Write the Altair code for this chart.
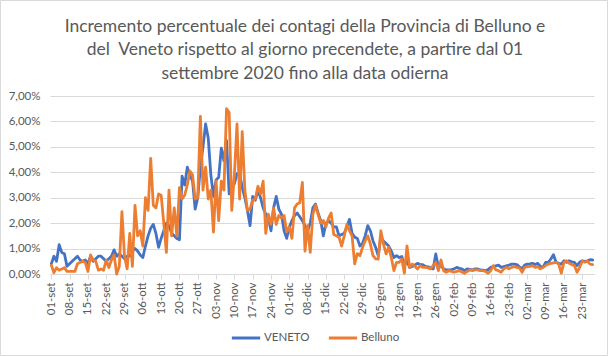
import altair as alt
import pandas as pd

titolo = [
    "Incremento percentuale dei contagi della Provincia di Belluno e",
    "del\u00a0 Veneto rispetto al giorno precendete, a partire dal 01",
    "settembre 2020 fino alla data odierna",
]

etichette_x = ["01-set", "08-set", "15-set", "22-set", "29-set", "06-ott", "13-ott", "20-ott",
               "27-ott", "03-nov", "10-nov", "17-nov", "24-nov", "01-dic", "08-dic", "15-dic",
               "22-dic", "29-dic", "05-gen", "12-gen", "19-gen", "26-gen", "02-feb", "09-feb",
               "16-feb", "23-feb", "02-mar", "09-mar", "16-mar", "23-mar"]

serie = ["VENETO", "Belluno"]

# percentuali giornaliere dal 01-set-2020 al 27-mar-2021
veneto = [
    0.40, 0.70, 0.50, 1.15, 0.85, 0.80, 0.30, 0.40, 0.50, 0.60,
    0.70, 0.55, 0.50, 0.55, 0.40, 0.70, 0.50, 0.60, 0.70, 0.70,
    0.60, 0.50, 0.60, 0.70, 0.95, 0.70, 0.80, 0.70, 0.60, 0.70,
    0.70, 0.90, 1.00, 0.90, 0.75, 0.65, 1.10, 1.50, 1.80, 1.95,
    1.60, 1.05, 1.40, 1.70, 2.00, 1.90, 1.60, 1.50, 1.40, 1.35,
    3.85, 3.50, 4.20, 3.90, 3.65, 2.55, 3.00, 4.20, 5.00, 5.90,
    5.35, 3.90, 3.05, 3.70, 3.80, 4.95, 4.45, 5.25, 3.15, 3.40,
    3.55, 3.95, 3.95, 3.40, 3.00, 2.50, 1.90, 3.05, 2.90, 3.30,
    3.00, 2.60, 2.35, 2.20, 1.70, 2.60, 3.05, 2.55, 2.35, 1.70,
    1.40, 1.85, 2.10, 2.30, 2.40, 2.25, 2.10, 1.90, 1.70, 2.00,
    2.60, 2.75, 2.40, 2.10, 1.50, 2.00, 2.10, 2.00, 1.85, 1.85,
    1.50, 1.55, 1.60, 1.85, 2.15, 1.60, 1.45, 1.40, 1.10, 1.20,
    1.50, 1.90, 1.70, 1.30, 1.05, 0.72, 1.45, 1.30, 1.20, 1.10,
    0.90, 0.65, 0.72, 0.65, 0.69, 0.33, 0.52, 0.26, 0.30, 0.35,
    0.42, 0.37, 0.37, 0.30, 0.28, 0.24, 0.20, 0.79, 0.26, 0.33,
    0.20, 0.16, 0.16, 0.17, 0.20, 0.26, 0.22, 0.20, 0.13, 0.20,
    0.18, 0.16, 0.20, 0.20, 0.16, 0.15, 0.13, 0.17, 0.26, 0.29,
    0.32, 0.35, 0.26, 0.29, 0.32, 0.35, 0.39, 0.39, 0.37, 0.28,
    0.20, 0.35, 0.39, 0.40, 0.42, 0.37, 0.42, 0.30, 0.26, 0.46,
    0.46, 0.59, 0.76, 0.46, 0.42, 0.39, 0.52, 0.46, 0.52, 0.48,
    0.46, 0.33, 0.46, 0.52, 0.50, 0.52, 0.56, 0.55,
]

belluno = [
    0.35, 0.05, 0.25, 0.15, 0.20, 0.25, 0.10, 0.10, 0.10, 0.10,
    0.40, 0.45, 0.50, 0.45, 0.10, 0.75, 0.55, 0.50, 0.15, 0.20,
    0.15, 0.55, 0.25, 0.55, 0.75, 0.00, 0.30, 2.45, 0.70, 0.20,
    1.60, 0.30, 2.70, 1.50, 1.70, 1.10, 3.00, 2.50, 4.55, 2.70,
    2.60, 3.15, 3.10, 2.00, 0.85, 3.30, 1.50, 2.60, 1.50, 3.40,
    2.95, 3.10, 3.50, 4.05, 3.90, 2.95, 3.00, 6.20, 3.30, 4.20,
    2.95, 3.30, 1.65, 3.65, 2.10, 3.65, 3.30, 6.50, 6.35, 2.50,
    3.90, 5.90, 2.95, 5.60, 3.30, 2.50, 2.55, 2.90, 2.95, 3.45,
    3.15, 3.65, 1.60, 2.35, 1.95, 2.60, 1.95, 2.30, 2.20, 2.30,
    1.65, 1.85, 1.40, 2.60, 2.75, 2.80, 3.60, 0.90, 1.90, 0.85,
    2.35, 2.70, 2.35, 2.00, 2.10, 1.85, 2.20, 2.40, 1.55, 1.50,
    1.45, 1.10, 1.50, 1.95, 1.70, 1.50, 0.40, 0.80, 0.72, 1.05,
    1.30, 1.50, 1.18, 0.72, 0.60, 0.59, 1.70, 1.18, 0.79, 1.05,
    0.65, 0.13, 0.46, 0.46, 0.59, 0.03, 1.10, 0.26, 0.39, 0.30,
    0.20, 0.33, 0.26, 0.26, 0.24, 0.20, 0.33, 0.46, 0.13, 0.55,
    0.13, 0.07, 0.13, 0.10, 0.07, 0.10, 0.13, 0.08, 0.03, 0.10,
    0.16, 0.13, 0.16, 0.16, 0.13, 0.13, 0.10, 0.03, 0.13, 0.33,
    0.16, 0.13, 0.07, 0.20, 0.26, 0.20, 0.26, 0.29, 0.26, 0.24,
    0.07, 0.26, 0.29, 0.30, 0.33, 0.26, 0.29, 0.20, 0.26, 0.33,
    0.39, 0.42, 0.44, 0.46, 0.39, 0.03, 0.46, 0.52, 0.42, 0.37,
    0.33, 0.07, 0.26, 0.50, 0.46, 0.50, 0.39, 0.37,
]

n = len(veneto)
df = pd.DataFrame({
    "giorno": list(range(n)) * 2,
    "serie": [serie[0]] * n + [serie[1]] * n,
    "valore": veneto + belluno,
})

W, H = 544, 178
FONT = "Lato"
GREY = "#595959"
LINE = "#d9d9d9"

label_array = "[" + ",".join("'" + s + "'" for s in etichette_x) + "]"

x_enc = alt.X(
    "giorno:Q",
    scale=alt.Scale(domain=[-0.5, n - 0.5], nice=False, zero=False),
    axis=alt.Axis(
        values=list(range(0, 7 * len(etichette_x), 7)),
        labelExpr=label_array + "[round(datum.value / 7)]",
        labelAngle=270, title=None, grid=False,
        domainColor=LINE, tickColor=LINE, tickSize=5,
        labelColor=GREY, labelFontSize=11.5, labelFont=FONT, labelPadding=3,
    ),
)
y_enc = alt.Y(
    "valore:Q",
    scale=alt.Scale(domain=[0, 7], nice=False),
    axis=alt.Axis(
        values=list(range(0, 8)),
        labelExpr="replace(format(datum.value, '.2f'), '.', ',') + '%'",
        title=None, domain=False, ticks=False, gridColor=LINE,
        labelColor=GREY, labelFontSize=11.5, labelFont=FONT, labelPadding=10,
    ),
)
color_enc = alt.Color(
    "serie:N",
    scale=alt.Scale(domain=serie, range=["#4472C4", "#ED7D31"]),
    legend=alt.Legend(
        title=None, orient="none", direction="horizontal",
        legendX=180, legendY=226, symbolType="stroke", symbolStrokeWidth=3,
        symbolSize=800, labelFont=FONT, labelFontSize=11.5, labelColor=GREY,
        columnPadding=12, labelOffset=2,
    ),
)

layers = []
for s in serie:
    layers.append(
        alt.Chart(df).transform_filter(alt.datum.serie == s)
        .mark_line(strokeWidth=2.8, strokeJoin="round", strokeCap="round")
        .encode(x=x_enc, y=y_enc, color=color_enc)
    )

bordo = alt.Chart(pd.DataFrame({"k": [0]})).mark_rect(
    fill=None, stroke=LINE, strokeWidth=1
).encode(
    x=alt.value(-49.5), x2=alt.value(608 - 50 - 0.5),
    y=alt.value(-95.5), y2=alt.value(356 - 96 - 0.5),
)

chart = alt.layer(bordo, *layers).properties(
    width=W, height=H,
    autosize=alt.AutoSizeParams(type="none"),
    padding={"left": 50, "top": 96, "right": 608 - 50 - W, "bottom": 356 - 96 - H},
    title=alt.TitleParams(
        text=titolo, anchor="middle", frame="group", font=FONT, fontSize=17.5,
        fontWeight="normal", color=GREY, lineHeight=23.5, offset=0, dy=82, dx=-17,
    ),
).configure_view(stroke=None)

chart.save("out.html", embed_options={"renderer": "svg", "actions": False})
